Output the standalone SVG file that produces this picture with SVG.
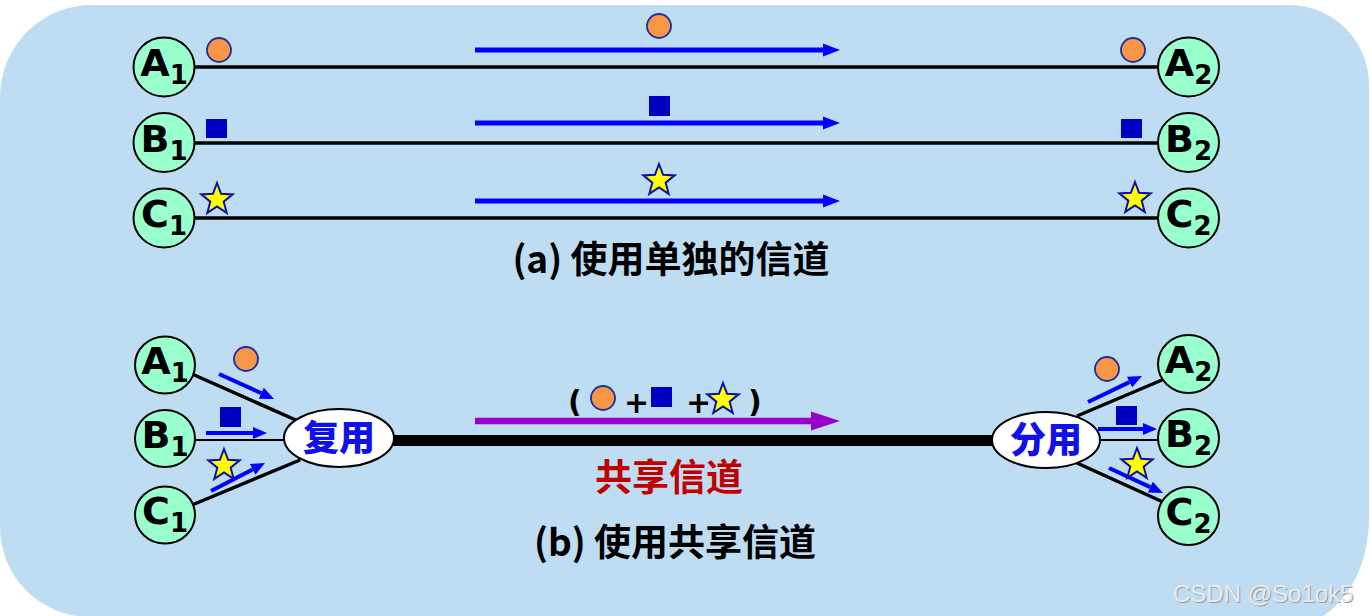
<svg xmlns="http://www.w3.org/2000/svg" width="1370" height="616" viewBox="0 0 1370 616">
<defs>
<style>
.node{fill:#99FFCC;stroke:#000;stroke-width:2}
.lbl{font-family:"DejaVu Sans",Verdana,sans-serif;font-weight:bold;font-size:38px;fill:#000;text-anchor:middle}
.sub{font-size:26px}
.wire{stroke:#000;stroke-width:3.5;fill:none}
.thin{stroke:#000;stroke-width:2;fill:none}
.barr{stroke:#0000FF;stroke-width:5;fill:none}
.sarr{stroke:#0000FF;stroke-width:4;fill:none}
.circ{fill:#F79646;stroke:#1F2DA0;stroke-width:1.8}
.sq{fill:#0000C0}
.star{fill:#FFFF00;stroke:#1010A0;stroke-width:2}
.cap{font-family:"Noto Sans CJK SC","Noto Sans",sans-serif;font-weight:bold;font-size:37px;fill:#000;text-anchor:middle}
.mux{fill:#fff;stroke:#000;stroke-width:2}
.muxt{font-family:"Noto Sans CJK SC",sans-serif;font-weight:900;font-size:36px;fill:#1010E8;text-anchor:middle}
.sym{font-family:"DejaVu Sans",sans-serif;font-weight:bold;font-size:30px;fill:#000}
</style>
<marker id="hb" markerUnits="userSpaceOnUse" markerWidth="20" markerHeight="16" refX="0" refY="7" orient="auto"><path d="M0,0.5 L17,7 L0,13.5 Z" fill="#0000FF"/></marker>
<marker id="hs" markerUnits="userSpaceOnUse" markerWidth="16" markerHeight="14" refX="0" refY="6" orient="auto"><path d="M0,0 L14,6 L0,12 Z" fill="#0000FF"/></marker>
<marker id="hp" markerUnits="userSpaceOnUse" markerWidth="32" markerHeight="22" refX="0" refY="10" orient="auto"><path d="M0,0.5 L29,10 L0,19.5 Z" fill="#9900CC"/></marker>
<path id="st" d="M0,-16.5 L4.11,-5.66 L15.69,-5.1 L6.66,2.16 L9.7,13.35 L0,7 L-9.7,13.35 L-6.66,2.16 L-15.69,-5.1 L-4.11,-5.66 Z"/>
</defs>
<rect width="1370" height="616" fill="#fff"/>
<path d="M95,5 H1290 A80,80 0 0 1 1369,85 V515 C1369,565 1350,598 1322,617 H90 A90,90 0 0 1 0,527 V97 A92,92 0 0 1 95,5 Z" fill="#BEDDF2"/>

<g id="connectors">
<line class="wire" x1="195" y1="67" x2="1158" y2="67"/>
<line class="wire" x1="195" y1="143" x2="1158" y2="143"/>
<line class="wire" x1="195" y1="218" x2="1158" y2="218"/>
<line class="barr" x1="475" y1="50" x2="823" y2="50" marker-end="url(#hb)"/>
<line class="barr" x1="475" y1="123" x2="823" y2="123" marker-end="url(#hb)"/>
<line class="barr" x1="475" y1="201" x2="823" y2="201" marker-end="url(#hb)"/>
<line class="wire" x1="192" y1="374" x2="298" y2="421"/>
<line class="thin" x1="195" y1="440" x2="285" y2="440"/>
<line class="wire" x1="192" y1="505" x2="300" y2="460"/>
<line stroke="#000" stroke-width="11" x1="393" y1="440.5" x2="993" y2="440.5"/>
<line class="wire" x1="1077" y1="416" x2="1162" y2="380"/>
<line class="thin" x1="1100" y1="440" x2="1159" y2="440"/>
<line class="wire" x1="1077" y1="463" x2="1163" y2="502"/>
<line stroke="#9900CC" stroke-width="6.5" x1="475" y1="421" x2="811" y2="421" marker-end="url(#hp)"/>
<line class="sarr" x1="219" y1="374" x2="261.3" y2="393.2" marker-end="url(#hs)"/>
<line class="sarr" x1="206" y1="433" x2="253" y2="433" marker-end="url(#hs)"/>
<line class="sarr" x1="211" y1="491" x2="252.6" y2="469.4" marker-end="url(#hs)"/>
<line class="sarr" x1="1088" y1="402" x2="1129.4" y2="382.1" marker-end="url(#hs)"/>
<line class="sarr" x1="1098" y1="429" x2="1143" y2="429" marker-end="url(#hs)"/>
<line class="sarr" x1="1109" y1="468" x2="1150.3" y2="487.1" marker-end="url(#hs)"/>
</g>

<g id="symbols">
<circle class="circ" cx="219" cy="50" r="12"/>
<circle class="circ" cx="659" cy="26" r="12"/>
<circle class="circ" cx="1133" cy="50" r="12"/>
<rect class="sq" x="206" y="119" width="21" height="19"/>
<rect class="sq" x="649" y="96" width="21" height="20"/>
<rect class="sq" x="1121" y="119" width="21" height="19"/>
<use href="#st" class="star" x="217" y="199.5"/>
<use href="#st" class="star" x="659" y="180.5"/>
<use href="#st" class="star" x="1135" y="198.5"/>
<circle class="circ" cx="246" cy="359" r="12"/>
<rect class="sq" x="220" y="407" width="21" height="20"/>
<use href="#st" class="star" x="224" y="465.5"/>
<circle class="circ" cx="1107" cy="369" r="12"/>
<rect class="sq" x="1116" y="406" width="21" height="19"/>
<use href="#st" class="star" x="1137" y="464.5"/>
</g>

<g id="label-combined">
<text class="sym" x="568" y="412">(</text>
<circle class="circ" cx="603" cy="398" r="12"/>
<text class="sym" x="624" y="413">+</text>
<rect class="sq" x="651" y="387" width="21" height="20"/>
<text class="sym" x="686" y="413">+</text>
<use href="#st" class="star" x="723" y="399.5"/>
<text class="sym" x="748" y="412">)</text>
</g>

<g id="A1a"><ellipse class="node" cx="164" cy="67" rx="30.5" ry="29.5"/><text class="lbl" x="164" y="76">A<tspan class="sub" dy="8">1</tspan></text></g>
<g id="B1a"><ellipse class="node" cx="164" cy="142.5" rx="30.5" ry="29.5"/><text class="lbl" x="164" y="151.5">B<tspan class="sub" dy="8">1</tspan></text></g>
<g id="C1a"><ellipse class="node" cx="164" cy="218" rx="30.5" ry="29.5"/><text class="lbl" x="164" y="227">C<tspan class="sub" dy="8">1</tspan></text></g>
<g id="A2a"><ellipse class="node" cx="1188.5" cy="67" rx="30.5" ry="29.5"/><text class="lbl" x="1188.5" y="76">A<tspan class="sub" dy="8">2</tspan></text></g>
<g id="B2a"><ellipse class="node" cx="1188.5" cy="142.5" rx="30.5" ry="29.5"/><text class="lbl" x="1188.5" y="151.5">B<tspan class="sub" dy="8">2</tspan></text></g>
<g id="C2a"><ellipse class="node" cx="1188.5" cy="218" rx="30.5" ry="29.5"/><text class="lbl" x="1188.5" y="227">C<tspan class="sub" dy="8">2</tspan></text></g>

<g id="A1b"><ellipse class="node" cx="165" cy="365" rx="30" ry="28.5"/><text class="lbl" x="165" y="374">A<tspan class="sub" dy="8">1</tspan></text></g>
<g id="B1b"><ellipse class="node" cx="165" cy="438.5" rx="30" ry="28.5"/><text class="lbl" x="165" y="447.5">B<tspan class="sub" dy="8">1</tspan></text></g>
<g id="C1b"><ellipse class="node" cx="165" cy="515" rx="30" ry="28.5"/><text class="lbl" x="165" y="524">C<tspan class="sub" dy="8">1</tspan></text></g>
<g id="A2b"><ellipse class="node" cx="1188.5" cy="364" rx="30.5" ry="29"/><text class="lbl" x="1188.5" y="373">A<tspan class="sub" dy="8">2</tspan></text></g>
<g id="B2b"><ellipse class="node" cx="1188.5" cy="438" rx="30.5" ry="29"/><text class="lbl" x="1188.5" y="447">B<tspan class="sub" dy="8">2</tspan></text></g>
<g id="C2b"><ellipse class="node" cx="1188.5" cy="516" rx="30.5" ry="29"/><text class="lbl" x="1188.5" y="525">C<tspan class="sub" dy="8">2</tspan></text></g>

<g id="mux"><ellipse class="mux" cx="339" cy="438" rx="55" ry="29"/><text class="muxt" x="339" y="451">复用</text></g>
<g id="demux"><ellipse class="mux" cx="1046" cy="440" rx="54" ry="28"/><text class="muxt" x="1046" y="453">分用</text></g>

<g id="captions">
<text class="cap" x="671" y="273">(a) 使用单独的信道</text>
<text class="cap" x="669" y="491" style="fill:#C00000">共享信道</text>
<text class="cap" x="675" y="556">(b) 使用共享信道</text>
</g>

<g id="watermark" font-family="Liberation Sans,Arial,sans-serif" font-size="24">
<text x="1174" y="603" fill="#9a9a9a">CSDN @So1ok5</text>
<text x="1173" y="602" fill="#ececec">CSDN @So1ok5</text>
</g>
</svg>
